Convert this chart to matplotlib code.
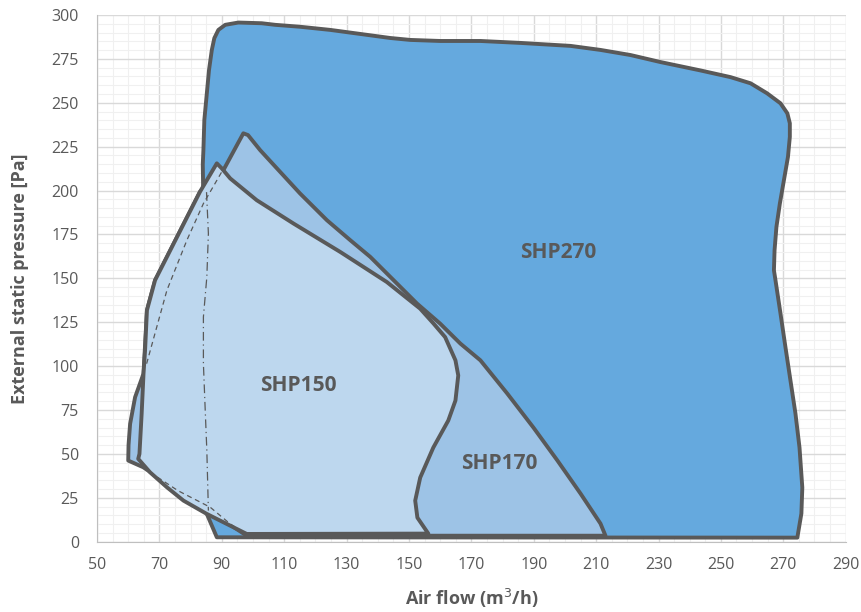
import numpy as np
import matplotlib
matplotlib.use('Agg')
import matplotlib.pyplot as plt

# SHP270 envelope (air flow, pressure)
shp270_x = [88.4, 85.2, 84.6, 84.3, 84.1, 84.0, 83.9, 84.1, 84.4, 85.2, 85.9, 86.8, 87.6,
            88.9, 91.1, 95.3, 102.8, 107.1, 115.1, 124.8, 134.4, 144.0, 150.4, 160.0,
            172.9, 185.7, 201.8, 211.4, 221.0, 230.6, 243.5, 253.1, 259.5, 264.8, 269.1,
            271.3, 272.1, 272.1, 271.5, 270.2, 268.9, 267.8, 267.2, 267.0, 267.5, 269.1,
            270.7, 272.3, 273.9, 275.2, 276.1, 275.8, 274.5]
shp270_y = [2.5, 15.8, 50.0, 80.4, 137.5, 203.0, 215.0, 223.0, 240.2, 255.4, 268.7, 280.1,
            286.8, 291.5, 294.4, 295.7, 295.3, 294.4, 293.3, 291.5, 289.2, 286.9, 285.8,
            285.2, 285.2, 284.1, 282.4, 280.1, 277.2, 273.2, 268.4, 264.6, 261.1, 255.4,
            249.7, 244.0, 238.3, 230.6, 219.2, 205.9, 192.6, 179.3, 166.0, 154.6, 148.9,
            130.0, 110.7, 91.8, 73.0, 53.6, 30.8, 16.0, 2.3]

# SHP170 envelope
shp170_x = [96.9, 98.4, 102.3, 108.2, 115.1, 123.7, 131.2, 137.6, 145.1, 152.6, 160.0,
            166.5, 172.9, 181.5, 189.9, 197.6, 205.0, 211.4, 213.0, 98.0, 64.8, 60.0,
            60.1, 60.6, 62.2, 64.9, 66.0, 68.6, 83.0, 90.5]
shp170_y = [232.6, 231.6, 223.0, 211.6, 198.3, 183.1, 171.7, 162.2, 148.9, 135.6, 124.2,
            112.8, 103.3, 84.4, 65.0, 46.2, 27.4, 10.3, 3.4, 3.4, 42.4, 46.2,
            55.0, 67.1, 82.3, 95.7, 131.8, 148.9, 199.3, 211.6]

# SHP150 envelope
shp150_x = [88.4, 90.0, 92.7, 101.2, 113.0, 128.0, 142.9, 153.6, 157.9, 161.6, 164.9,
            165.8, 164.9, 162.6, 157.8, 153.6, 152.0, 152.7, 156.2, 98.0, 91.6, 85.2,
            77.7, 72.4, 67.0, 63.2, 63.6, 64.3, 64.9, 65.4, 66.0, 68.6, 83.0]
shp150_y = [215.5, 212.6, 206.9, 194.5, 181.2, 165.0, 147.9, 132.7, 124.2, 116.5, 103.3,
            94.7, 80.4, 69.0, 53.6, 36.5, 23.4, 13.7, 4.6, 4.4, 10.1, 15.8,
            23.4, 31.0, 39.5, 47.2, 50.0, 72.8, 95.7, 109.0, 131.8, 148.9, 199.3]

# dashed limits
dash_low_x = [67.0, 76.0, 86.3, 92.7, 95.0]
dash_low_y = [39.5, 29.0, 19.6, 10.1, 7.5]
dash_up_x = [65.9, 72.4, 78.8, 84.1, 90.0]
dash_up_y = [101.4, 143.2, 171.7, 192.6, 210.7]
dashdot_x = [85.1, 85.7, 85.2, 84.1, 84.1, 84.6, 85.2, 85.7]
dashdot_y = [199.1, 175.5, 150.8, 128.0, 101.4, 78.6, 51.9, 17.7]

x_ticks = list(range(50, 291, 20))
y_ticks = list(range(0, 301, 25))

edge = '#595959'
fig = plt.figure(figsize=(8.61, 6.12), dpi=100)
ax = fig.add_axes([0.1127, 0.1149, 0.8695, 0.8606])

ax.fill(shp270_x, shp270_y, facecolor='#65A9DE', edgecolor=edge, lw=2.8, joinstyle='round', zorder=3)
ax.fill(shp170_x, shp170_y, facecolor='#9DC3E6', edgecolor=edge, lw=2.8, joinstyle='round', zorder=4)
ax.fill(shp150_x, shp150_y, facecolor='#BDD7EE', edgecolor=edge, lw=2.8, joinstyle='round', zorder=5)

ax.plot(dash_low_x, dash_low_y, color=edge, lw=0.9, ls=(0, (4, 3)), zorder=6)
ax.plot(dash_up_x, dash_up_y, color=edge, lw=0.9, ls=(0, (4, 3)), zorder=6)
ax.plot(dashdot_x, dashdot_y, color=edge, lw=0.9, ls=(0, (7, 3, 1, 3)), zorder=6)

lbl = dict(color=edge, fontsize=15, fontweight='bold', family='Open Sans',
           ha='center', va='center', zorder=7)
ax.text(197.9, 164.9, 'SHP270', **lbl)
ax.text(114.5, 89.0, 'SHP150', **lbl)
ax.text(179.0, 44.5, 'SHP170', **lbl)

ax.set_xlim(50, 290)
ax.set_ylim(0, 300)
ax.set_xticks(x_ticks)
ax.set_yticks(y_ticks)
ax.set_xticks(np.arange(50, 291, 5), minor=True)
ax.set_yticks(np.arange(0, 301, 5), minor=True)
ax.grid(which='major', color='#D9D9D9', lw=1.0, zorder=0)
ax.grid(which='minor', color='#F0F0F0', lw=0.8, zorder=0)
ax.set_axisbelow(True)
ax.tick_params(which='both', length=0, labelsize=11.5, labelcolor=edge)
ax.tick_params(axis='x', pad=11)
ax.tick_params(axis='y', pad=13)
for lab in ax.get_xticklabels() + ax.get_yticklabels():
    lab.set_family('Open Sans')
for s in ['top', 'right']:
    ax.spines[s].set_visible(False)
for s in ['left', 'bottom']:
    ax.spines[s].set_color('#BFBFBF')

ax.set_xlabel('Air flow (m$^3$/h)', fontsize=13, fontweight='bold', color=edge,
              family='Open Sans', labelpad=10)
ax.set_ylabel('External static pressure [Pa]', fontsize=13, fontweight='bold', color=edge,
              family='Open Sans', labelpad=16)

fig.savefig('out.png', dpi=100)
